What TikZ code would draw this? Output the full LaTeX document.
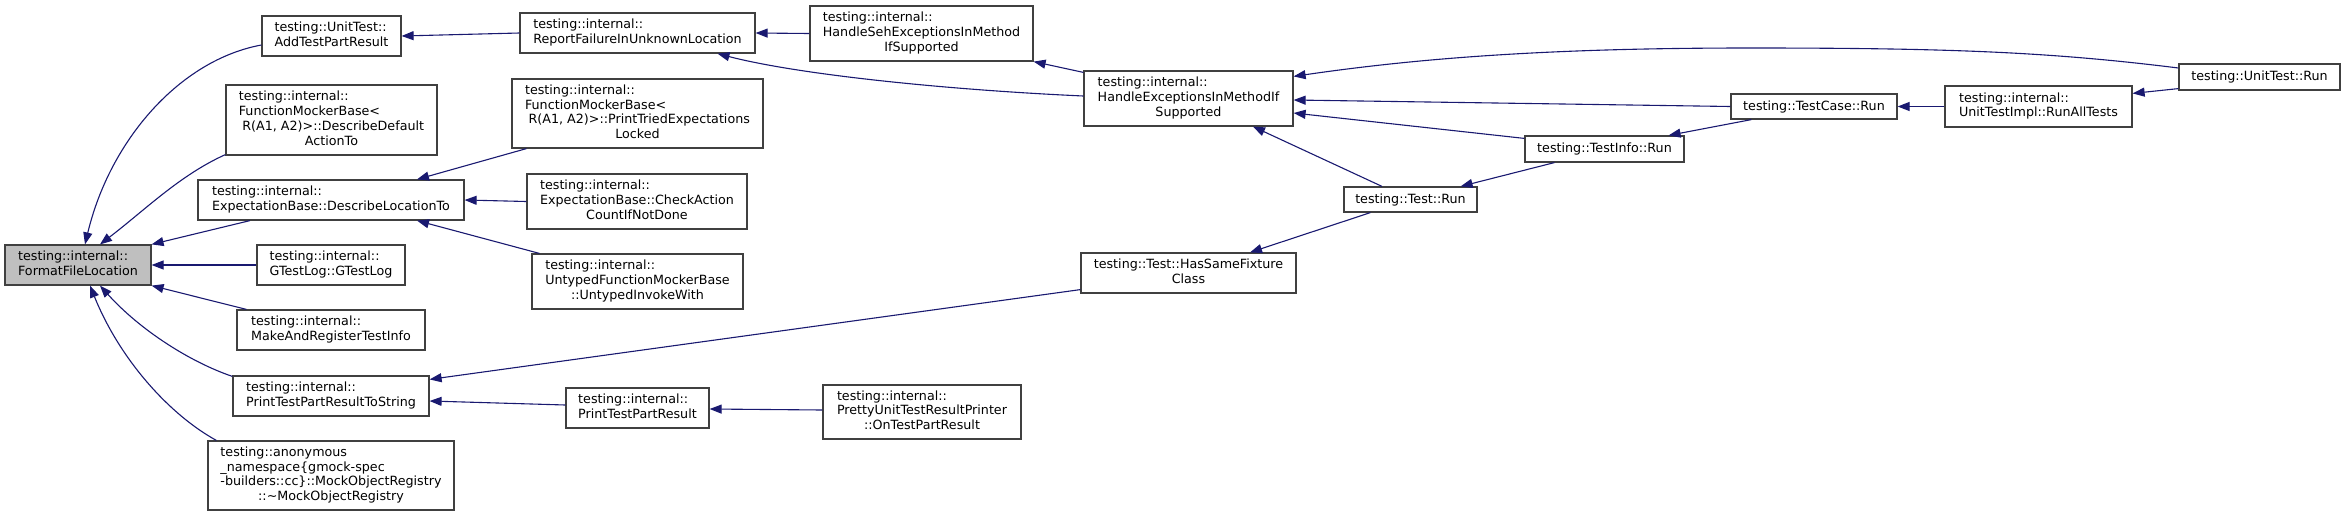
\documentclass[tikz,border=0pt]{standalone}
\usepackage{fontspec}
\setmainfont{DejaVu Sans}
\usetikzlibrary{arrows.meta,calc}
\definecolor{edgeblue}{HTML}{191970}
\definecolor{nodeborder}{HTML}{404040}
\definecolor{nodegray}{HTML}{BFBFBF}
\newcommand{\lbl}[1]{\begin{tabular}{@{}l@{}}#1\end{tabular}}
\newcommand{\cln}[1]{\multicolumn{1}{@{}c@{}}{#1}}
\newcommand{\nodefont}{\fontsize{12.7}{14.8}\selectfont}
\tikzset{
  box/.style={draw=nodeborder, line width=1.2pt, fill=white, inner sep=0pt, font=\nodefont},
  focus/.style={box, fill=nodegray},
  callarrow/.style={draw=edgeblue, line width=1.1pt, -{Triangle[length=12pt,width=9pt]}}
}
\begin{document}
\begin{tikzpicture}[x=1pt,y=-1pt]
\useasboundingbox (0,0) rectangle (2345,517);

% nodes
\node[focus, minimum width=146pt, minimum height=40pt] (ffl) at (78,265) {\lbl{testing::internal::\\FormatFileLocation}};
\node[box, minimum width=139pt, minimum height=40pt] (addtpr) at (331.5,36) {\lbl{testing::UnitTest::\\AddTestPartResult}};
\node[box, minimum width=211pt, minimum height=70pt] (descdef) at (331.5,120) {\lbl{testing::internal::\\FunctionMockerBase<\\\hspace{3.5pt}R(A1, A2)>::DescribeDefault\\\cln{ActionTo}}};
\node[box, minimum width=266pt, minimum height=40pt] (descloc) at (331,200) {\lbl{testing::internal::\\ExpectationBase::DescribeLocationTo}};
\node[box, minimum width=148pt, minimum height=40pt] (gtestlog) at (331,265) {\lbl{testing::internal::\\GTestLog::GTestLog}};
\node[box, minimum width=188pt, minimum height=40pt] (makereg) at (331,330) {\lbl{testing::internal::\\MakeAndRegisterTestInfo}};
\node[box, minimum width=196pt, minimum height=40pt] (ptprts) at (331,396) {\lbl{testing::internal::\\PrintTestPartResultToString}};
\node[box, minimum width=246pt, minimum height=69pt] (mockobj) at (331,475.5) {\lbl{testing::anonymous\\\_namespace\{gmock-spec\\-builders::cc\}::MockObjectRegistry\\\cln{::\textasciitilde MockObjectRegistry}}};

\node[box, minimum width=235pt, minimum height=40pt] (rfail) at (637.5,33) {\lbl{testing::internal::\\ReportFailureInUnknownLocation}};
\node[box, minimum width=251pt, minimum height=69pt] (ptried) at (637.5,113.5) {\lbl{testing::internal::\\FunctionMockerBase<\\\hspace{3.5pt}R(A1, A2)>::PrintTriedExpectations\\\cln{Locked}}};
\node[box, minimum width=220pt, minimum height=55pt] (checkact) at (637,201.5) {\lbl{testing::internal::\\ExpectationBase::CheckAction\\\cln{CountIfNotDone}}};
\node[box, minimum width=211pt, minimum height=55pt] (untyped) at (637.5,281.5) {\lbl{testing::internal::\\UntypedFunctionMockerBase\\\cln{::UntypedInvokeWith}}};
\node[box, minimum width=143pt, minimum height=40pt] (ptpr) at (637.5,408) {\lbl{testing::internal::\\PrintTestPartResult}};

\node[box, minimum width=223pt, minimum height=55pt] (hseh) at (921.5,33.5) {\lbl{testing::internal::\\HandleSehExceptionsInMethod\\\cln{IfSupported}}};
\node[box, minimum width=198pt, minimum height=54pt] (pretty) at (922,412) {\lbl{testing::internal::\\PrettyUnitTestResultPrinter\\\cln{::OnTestPartResult}}};

\node[box, minimum width=209pt, minimum height=55pt] (hexc) at (1188.5,98.5) {\lbl{testing::internal::\\HandleExceptionsInMethodIf\\\cln{Supported}}};
\node[box, minimum width=215pt, minimum height=40pt] (hsame) at (1188.5,273) {\begin{tabular}{@{}c@{}}testing::Test::HasSameFixture\\Class\end{tabular}};

\node[box, minimum width=133pt, minimum height=25pt] (testrun) at (1410.5,199.5) {testing::Test::Run};
\node[box, minimum width=159pt, minimum height=26pt] (tinforun) at (1604.5,149) {testing::TestInfo::Run};
\node[box, minimum width=166pt, minimum height=25pt] (tcaserun) at (1814,106.5) {testing::TestCase::Run};
\node[box, minimum width=187pt, minimum height=41pt] (runall) at (2038.5,106.5) {\lbl{testing::internal::\\UnitTestImpl::RunAllTests}};
\node[box, minimum width=161pt, minimum height=26pt] (utrun) at (2259.5,77) {testing::UnitTest::Run};

\coordinate (toparc) at (1750,48);

% edges into FormatFileLocation
\draw[callarrow] ($(addtpr.west)+(0,9)$) .. controls (180,60) and (110,140) .. ($(ffl.north)+(7,0)$);
\draw[callarrow] ($(descdef.south west)+(0,-1)$) .. controls (180,175) and (145,210) .. ($(ffl.north)+(22,0)$);
\draw[callarrow] ($(descloc.south)+(-81,0)$) -- (ffl.north east);
\draw[callarrow] (gtestlog.west) -- (ffl.east);
\draw[callarrow] ($(makereg.north west)+(10,0)$) -- (ffl.south east);
\draw[callarrow] ($(ptprts.north west)+(0,1)$) .. controls (190,362) and (140,330) .. ($(ffl.south)+(22,0)$);
\draw[callarrow] ($(mockobj.north west)+(9,0)$) .. controls (170,415) and (120,360) .. ($(ffl.south)+(12,0)$);

% into DescribeLocationTo
\draw[callarrow] ($(ptried.south west)+(15,0)$) -- ($(descloc.north)+(86,0)$);
\draw[callarrow] (checkact.west) -- (descloc.east);
\draw[callarrow] ($(untyped.north west)+(8,0)$) -- ($(descloc.south)+(86,0)$);

% AddTestPartResult chain
\draw[callarrow] (rfail.west) -- (addtpr.east);
\draw[callarrow] (hseh.west) -- (rfail.east);
\draw[callarrow] ($(hexc.west)+(0,-2.5)$) .. controls (950,90) and (800,75) .. ($(rfail.south)+(80,0)$);
\draw[callarrow] ($(hexc.north west)+(0,2)$) -- (hseh.south east);

% into HandleExceptionsInMethodIfSupported
\draw[callarrow] ($(utrun.west)+(0,-9)$) .. controls (2050,52) and (1950,48) .. (toparc) .. controls (1550,48) and (1420,58) .. ($(hexc.north east)+(0,6)$);
\draw[callarrow] (tcaserun.west) -- ($(hexc.east)+(0,1.5)$);
\draw[callarrow] ($(tinforun.north west)+(0,3)$) -- ($(hexc.east)+(0,14.5)$);
\draw[callarrow] ($(testrun.north)+(-28.5,0)$) -- ($(hexc.south)+(64.5,0)$);

% run chain
\draw[callarrow] ($(tcaserun.south west)+(21,0)$) -- ($(tinforun.north east)+(-16,0)$);
\draw[callarrow] ($(tinforun.south west)+(30,0)$) -- ($(testrun.north east)+(-17,0)$);
\draw[callarrow] ($(testrun.south west)+(27,0)$) -- ($(hsame.north)+(61.5,0)$);
\draw[callarrow] (runall.west) -- (tcaserun.east);
\draw[callarrow] ($(utrun.south west)+(0,-2)$) -- ($(runall.north east)+(0,8)$);

% into PrintTestPartResultToString
\draw[callarrow] ($(hsame.south west)+(0,-4)$) -- ($(ptprts.north east)+(0,4)$);
\draw[callarrow] ($(ptpr.west)+(0,-3)$) -- ($(ptprts.east)+(0,5)$);
\draw[callarrow] ($(pretty.west)+(0,-2)$) -- ($(ptpr.east)+(0,1)$);
\end{tikzpicture}
\end{document}
